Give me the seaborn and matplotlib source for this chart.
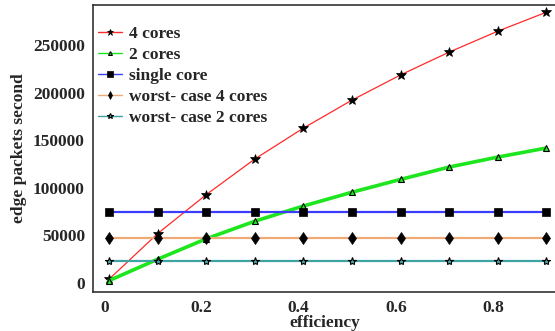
import numpy as np
import pandas as pd
import seaborn as sns
import matplotlib.pyplot as plt
from matplotlib.ticker import MultipleLocator

efficiency = [0.01, 0.11, 0.21, 0.31, 0.41, 0.51, 0.61, 0.71, 0.81, 0.91]
four_cores = [4000, 52000, 93000, 130500, 163000, 192500, 219000, 243000, 265000, 285000]
two_cores = [2500, 25000, 46500, 65000, 81000, 95500, 109000, 122000, 132500, 142000]
single_core = [75000] * 10
worst_four = [47000] * 10
worst_two = [23000] * 10

series = {
    '4 cores': four_cores,
    '2 cores': two_cores,
    'single core': single_core,
    'worst- case 4 cores': worst_four,
    'worst- case 2 cores': worst_two,
}

styles = {
    '4 cores': dict(color='#ff2a2a', lw=0.9, marker='*', ms=7, mfc='black', mec='black'),
    '2 cores': dict(color='#1ee61e', lw=2.6, marker='^', ms=4, mfc='#1ee61e', mec='black', mew=0.8),
    'single core': dict(color='#3c3cff', lw=1.6, marker='s', ms=5.5, mfc='black', mec='black'),
    'worst- case 4 cores': dict(color='#f0aa78', lw=1.6, marker='d', ms=6, mfc='black', mec='black'),
    'worst- case 2 cores': dict(color='#3fa3a3', lw=1.6, marker='*', ms=6, mfc='#3fa3a3', mec='black', mew=0.8),
}

sns.set_style('white')
plt.rcParams['font.family'] = ['Liberation Serif', 'DejaVu Serif']
plt.rcParams['font.weight'] = 'bold'

fig = plt.figure(figsize=(5.55, 3.31), dpi=100)
ax = fig.add_axes([0.168, 0.118, 0.834, 0.867])

for name, vals in series.items():
    df = pd.DataFrame({'efficiency': efficiency, 'value': vals})
    st = styles[name]
    sns.lineplot(data=df, x='efficiency', y='value', ax=ax, label=name,
                 color=st['color'], linewidth=st['lw'], marker=st['marker'],
                 markersize=st['ms'], markerfacecolor=st['mfc'],
                 markeredgecolor=st['mec'], markeredgewidth=st.get('mew', 0.5))

ax.set_xlim(-0.0227, 0.93)
ax.set_ylim(-9470, 292600)
ax.xaxis.set_major_locator(MultipleLocator(0.2))
ax.xaxis.set_minor_locator(MultipleLocator(0.05))
ax.yaxis.set_major_locator(MultipleLocator(50000))
ax.yaxis.set_minor_locator(MultipleLocator(10000))
ax.xaxis.set_major_formatter(plt.FuncFormatter(lambda v, p: '0' if abs(v) < 1e-9 else f'{v:g}'))
ax.tick_params(which='both', direction='in', top=False, right=False, labelsize=12.5, pad=6)
ax.tick_params(which='major', length=4, width=0.8)
ax.tick_params(which='minor', length=2, width=0.6)
for lab in ax.get_xticklabels() + ax.get_yticklabels():
    lab.set_fontweight('bold')

for side in ['left', 'bottom', 'top']:
    ax.spines[side].set_color('#333333')
    ax.spines[side].set_linewidth(1.2)
ax.spines['right'].set_visible(False)

ax.set_xlabel('efficiency', fontsize=12.5, fontweight='bold', labelpad=-1)
ax.set_ylabel('edge packets second', fontsize=12.5, fontweight='bold', labelpad=4)

leg = ax.legend(loc='upper left', frameon=False, handlelength=1.4,
                handletextpad=0.4, labelspacing=0.27, borderaxespad=0.0,
                bbox_to_anchor=(-0.005, 0.95), prop={'weight': 'bold', 'size': 12.5})
for h in leg.legend_handles:
    h.set_linewidth(1.0)
    h.set_markersize(h.get_markersize() * 0.7)

fig.savefig('out.png', dpi=100)
